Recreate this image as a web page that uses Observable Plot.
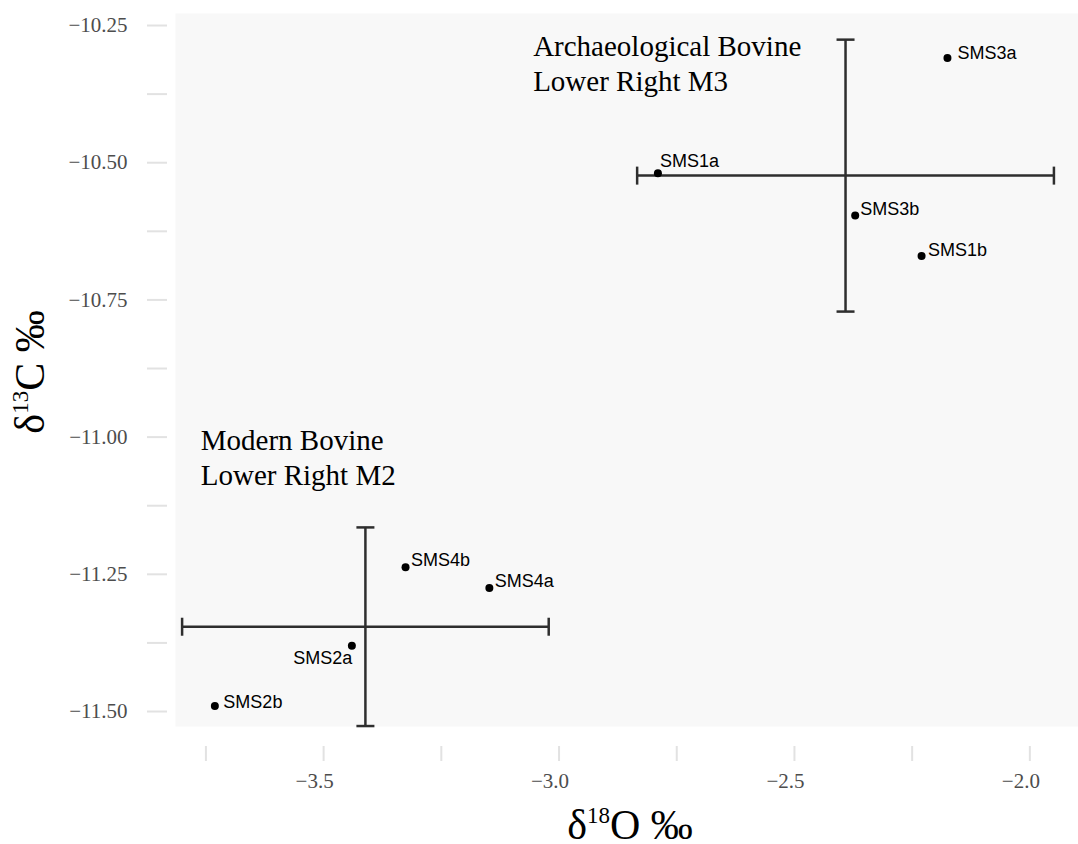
<!DOCTYPE html>
<html>
<head>
<meta charset="utf-8">
<script src="https://cdn.jsdelivr.net/npm/d3@7"></script>
<script src="https://cdn.jsdelivr.net/npm/@observablehq/plot@0.6"></script>
<style>
  body { margin: 0; background: #ffffff; }
  svg { display: block; }
</style>
</head>
<body>
<div id="chart"></div>
<script>
// Stable isotope values of bovine tooth enamel samples (per mil)
const sampleIds   = ["SMS1a", "SMS1b", "SMS3a", "SMS3b", "SMS2a", "SMS2b", "SMS4a", "SMS4b"];
const sampleGroup = ["Archaeological", "Archaeological", "Archaeological", "Archaeological",
                     "Modern", "Modern", "Modern", "Modern"];
const d18O = [-2.790, -2.230, -2.175, -2.371, -3.440, -3.731, -3.148, -3.326];
const d13C = [-10.519, -10.670, -10.309, -10.596, -11.380, -11.490, -11.275, -11.237];

// Group annotations
const noteText = ["Archaeological Bovine\nLower Right M3", "Modern Bovine\nLower Right M2"];
const noteX = [-3.055, -3.761];
const noteY = [-10.261, -10.979];

// Axis ticks
const xMajor = [-3.5, -3.0, -2.5, -2.0];
const xMinor = [-3.75, -3.25, -2.75, -2.25];
const yMajor = [-10.25, -10.5, -10.75, -11.0, -11.25, -11.5];
const yMinor = [-10.375, -10.625, -10.875, -11.125, -11.375];

const serif = "'Liberation Serif', 'Times New Roman', Times, serif";
const sans = "'Liberation Sans', Arial, Helvetica, sans-serif";

const samples = sampleIds.map((id, i) => ({id, group: sampleGroup[i], x: d18O[i], y: d13C[i]}));
const notes = noteText.map((text, i) => ({text, x: noteX[i], y: noteY[i]}));

// Group means with 95% confidence intervals (Student t, n - 1 = 3 degrees of freedom)
const tCrit = 3.182;
const summary = d3.groups(samples, d => d.group).map(([group, rows]) => {
  const n = rows.length;
  return {
    group,
    mx: d3.mean(rows, d => d.x),
    my: d3.mean(rows, d => d.y),
    ex: tCrit * d3.deviation(rows, d => d.x) / Math.sqrt(n),
    ey: tCrit * d3.deviation(rows, d => d.y) / Math.sqrt(n)
  };
});
const hCaps = summary.flatMap(s => [{x: s.mx - s.ex, y: s.my}, {x: s.mx + s.ex, y: s.my}]);
const vCaps = summary.flatMap(s => [{x: s.mx, y: s.my - s.ey}, {x: s.mx, y: s.my + s.ey}]);

// Short line symbols used as error-bar caps
const vLine = {draw(ctx, size) { const r = Math.sqrt(size / Math.PI); ctx.moveTo(0, -r); ctx.lineTo(0, r); }};
const hLine = {draw(ctx, size) { const r = Math.sqrt(size / Math.PI); ctx.moveTo(-r, 0); ctx.lineTo(r, 0); }};

// Label placement around each point: horizontal offset, baseline offset, anchor
const labelPlacement = {
  SMS3a: [10, 1, "start"],
  SMS1a: [2, -6, "start"],
  SMS3b: [5, 0, "start"],
  SMS1b: [6.5, 0, "start"],
  SMS2b: [8.5, 1.5, "start"],
  SMS4b: [5.5, -1.5, "start"],
  SMS4a: [5.5, -1.5, "start"],
  SMS2a: [0.5, 18.5, "end"]
};
const labelSize = 18;
const labelMarks = samples.map(d => {
  const [dx, base, anchor] = labelPlacement[d.id];
  return Plot.text([d], {
    x: "x", y: "y", text: "id",
    dx, dy: base - 0.32 * labelSize,
    textAnchor: anchor, lineAnchor: "middle",
    fontSize: labelSize, fontFamily: sans, fill: "#000000"
  });
});

const barColor = "#2e2e2e";
const tickColor = "#e2e2e2";
const tickText = "#4d4d4d";

const chart = Plot.plot({
  width: 1078,
  height: 844,
  marginLeft: 175,
  marginRight: 0,
  marginTop: 13,
  marginBottom: 118,
  style: {background: "#ffffff", overflow: "visible"},
  x: {domain: [-3.8146, -1.8967]},
  y: {domain: [-11.5273, -10.2281]},
  marks: [
    Plot.frame({fill: "#f8f8f8", stroke: null}),
    // y axis: ticks every 0.125, labels every 0.25
    Plot.axisY({ticks: yMinor, tickSize: 20, dx: -8, stroke: tickColor, strokeWidth: 2, fill: "none", label: null}),
    Plot.axisY({ticks: yMajor, tickSize: 20, tickPadding: 20, dx: -8, stroke: tickColor, strokeWidth: 2,
                tickFormat: d3.format(".2f"), fill: tickText, fontSize: 21, fontFamily: serif, label: null}),
    // x axis: ticks every 0.25, labels every 0.5
    Plot.axisX({ticks: [...xMinor, ...xMajor], tickSize: 15, dy: 20, stroke: tickColor, strokeWidth: 2, fill: "none", label: null}),
    Plot.axisX({ticks: xMajor, tickSize: 0, tickPadding: 27, dy: 20, dx: -9,
                tickFormat: d3.format(".1f"), fill: tickText, fontSize: 21, fontFamily: serif, label: null}),
    // error bars
    Plot.ruleY(summary, {y: "my", x1: d => d.mx - d.ex, x2: d => d.mx + d.ex, stroke: barColor, strokeWidth: 2.5}),
    Plot.ruleX(summary, {x: "mx", y1: d => d.my - d.ey, y2: d => d.my + d.ey, stroke: barColor, strokeWidth: 2.5}),
    Plot.dot(hCaps, {x: "x", y: "y", symbol: vLine, r: 9, fill: "none", stroke: barColor, strokeWidth: 2.5}),
    Plot.dot(vCaps, {x: "x", y: "y", symbol: hLine, r: 9, fill: "none", stroke: barColor, strokeWidth: 2.5}),
    // samples
    Plot.dot(samples, {x: "x", y: "y", r: 4, fill: "#000000", stroke: null}),
    ...labelMarks,
    // group annotations
    Plot.text(notes, {x: "x", y: "y", text: "text", textAnchor: "start", lineAnchor: "top",
                      lineHeight: 34.5 / 29, fontSize: 29, fontFamily: serif, fill: "#000000"})
  ]
});

// Axis titles with superscript isotope masses
const svg = d3.select(chart);
function isotopeTitle(sel, mass, element) {
  sel.attr("font-family", serif).attr("font-size", 42).attr("fill", "#000000").attr("text-anchor", "middle");
  sel.append("tspan").text("δ");
  sel.append("tspan").attr("font-size", 23).attr("dy", -16).text(mass);
  sel.append("tspan").attr("dy", 16).text(element + " ‰");
}
svg.append("text")
  .attr("x", 630).attr("y", 839)
  .call(isotopeTitle, "18", "O");
svg.append("text")
  .attr("transform", "translate(44,372) rotate(-90)")
  .call(isotopeTitle, "13", "C");

document.getElementById("chart").appendChild(chart);
</script>
</body>
</html>
